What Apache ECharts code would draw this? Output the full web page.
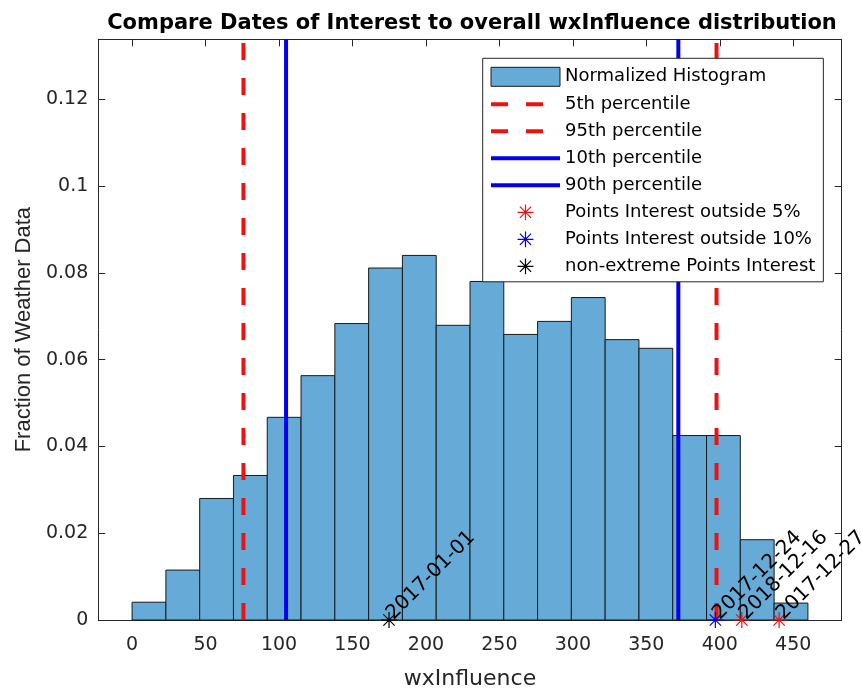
<!DOCTYPE html>
<html><head><meta charset="utf-8">
<script src="https://cdn.jsdelivr.net/npm/echarts@6/dist/echarts.min.js"></script>
<style>html,body{margin:0;padding:0;background:#fff}#c{width:861px;height:695px}</style>
</head><body><div id="c"></div>
<script>
// ---- data ----
const binEdges = [0,23,46,69,92,115,138,161,184,207,230,253,276,299,322,345,368,391,414,437,460];
const fractions = [0.0041,0.0115,0.0280,0.0333,0.0467,0.0563,0.0683,0.0811,0.0840,0.0679,0.0780,0.0658,0.0688,0.0743,0.0646,0.0626,0.0425,0.0425,0.0185,0.0039];
const xTicks = [0,50,100,150,200,250,300,350,400,450];
const yTicks = [0,0.02,0.04,0.06,0.08,0.1,0.12];
const xLimits = [-23, 483];
const yLimits = [0, 0.1338];
const percentileNames = ['5th percentile','95th percentile','10th percentile','90th percentile'];
const percentileValues = [75.8, 397.8, 104.8, 371.8];
const outside5Dates = ['2018-12-16','2017-12-27'];
const outside5Values = [415.0, 440.4];
const outside10Dates = ['2017-12-24'];
const outside10Values = [397.0];
const normalDates = ['2017-01-01'];
const normalValues = [174.9];

// ---- styling ----
const AX = '#262626';
const RED = '#ee1111', BLUE = '#0000ee';
const STAR = 'path://M-10,-0.75L10,-0.75L10,0.75L-10,0.75Z M-0.75,-10L0.75,-10L0.75,10L-0.75,10Z M-6.54,-7.6L7.6,6.54L6.54,7.6L-7.6,-6.54Z M-7.6,6.54L6.54,-7.6L7.6,-6.54L-6.54,7.6Z';
const STAR_LEGEND = STAR + ' M-12,-12L-12,-12Z M12,12L12,12Z';
const percentileStyles = [
  {color: RED, width: 4, type: [17,18]},
  {color: RED, width: 4, type: [17,18]},
  {color: BLUE, width: 4, type: 'solid'},
  {color: BLUE, width: 4, type: 'solid'}
];

const chart = echarts.init(document.getElementById('c'), null, {renderer: 'canvas'});

const pointLabel = {
  show: true, formatter: '{b}', position: 'inside', align: 'left', verticalAlign: 'middle',
  rotate: 45, offset: [3, -2], color: '#000', fontFamily: 'DejaVu Sans', fontSize: 20
};
function pointSeries(name, xs, dates, color) {
  return {
    type: 'scatter', name: name, symbol: STAR, symbolSize: 16, clip: false, z: 5,
    itemStyle: {color: color, opacity: 1},
    label: pointLabel,
    data: xs.map((x, i) => ({name: dates[i], value: [x, 0]}))
  };
}

const series = [];
series.push({
  type: 'custom', name: 'Normalized Histogram', z: 2,
  data: fractions.map((f, i) => [binEdges[i], binEdges[i + 1], f]),
  encode: {x: [0, 1], y: 2},
  itemStyle: {color: '#66aad7', borderColor: '#1a1a1a', borderWidth: 1},
  renderItem: function (params, api) {
    const p0 = api.coord([api.value(0), api.value(2)]);
    const p1 = api.coord([api.value(1), 0]);
    return {type: 'rect', shape: {x: p0[0], y: p0[1], width: p1[0] - p0[0], height: p1[1] - p0[1]},
      style: {fill: '#66aad7', stroke: '#1a1a1a', lineWidth: 1}};
  }
});
percentileNames.forEach((n, i) => {
  series.push({
    type: 'line', name: n, z: 3, symbol: 'none', silent: true,
    lineStyle: percentileStyles[i], itemStyle: {color: percentileStyles[i].color},
    data: [[percentileValues[i], yLimits[0]], [percentileValues[i], yLimits[1]]]
  });
});
series.push(pointSeries('Points Interest outside 5%', outside5Values, outside5Dates, RED));
series.push(pointSeries('Points Interest outside 10%', outside10Values, outside10Dates, BLUE));
series.push(pointSeries('non-extreme Points Interest', normalValues, normalDates, '#000'));

const legendData = [{name: 'Normalized Histogram', icon: 'rect', itemStyle: {color: '#66aad7', borderColor: '#1a1a1a', borderWidth: 1}}];
percentileNames.forEach((n, i) => legendData.push({
  name: n,
  itemStyle: {opacity: 0},
  lineStyle: {color: percentileStyles[i].color, width: 4, type: percentileStyles[i].type, opacity: 1}
}));
legendData.push(
  {name: 'Points Interest outside 5%', icon: STAR_LEGEND},
  {name: 'Points Interest outside 10%', icon: STAR_LEGEND},
  {name: 'non-extreme Points Interest', icon: STAR_LEGEND}
);

const axisCommon = {
  axisLine: {show: true, onZero: false, lineStyle: {color: AX, width: 1}},
  splitLine: {show: false}
};

chart.setOption({
  animation: false,
  backgroundColor: '#fff',
  title: {
    text: 'Compare Dates of Interest to overall wxInfluence distribution',
    left: 467, textAlign: 'center', top: 6,
    textStyle: {fontFamily: 'DejaVu Sans', fontWeight: 'bold', fontSize: 21, color: '#000', lineHeight: 26}
  },
  grid: {left: 98.3, right: 19.3, top: 39.3, bottom: 67.7, containLabel: false},
  legend: {
    orient: 'vertical', left: 482.7, top: 58.3,
    backgroundColor: '#fff', borderColor: AX, borderWidth: 1,
    padding: [8.5, 8, 6, 6.3], itemGap: 8, itemWidth: 69, itemHeight: 19,
    selectedMode: false, z: 10,
    textStyle: {fontFamily: 'DejaVu Sans', fontSize: 18, color: '#000', lineHeight: 19},
    data: legendData
  },
  xAxis: [
    Object.assign({
      type: 'value', min: xLimits[0], max: xLimits[1], position: 'bottom',
      name: 'wxInfluence', nameLocation: 'middle', nameGap: 48,
      nameTextStyle: {fontFamily: 'DejaVu Sans', fontSize: 22, color: AX},
      axisTick: {show: true, inside: true, length: 7, customValues: xTicks, lineStyle: {color: AX}},
      axisLabel: {customValues: xTicks, margin: 16, fontFamily: 'DejaVu Sans', fontSize: 19, color: AX}
    }, axisCommon),
    Object.assign({
      type: 'value', min: xLimits[0], max: xLimits[1], position: 'top',
      axisTick: {show: true, inside: true, length: 7, customValues: xTicks, lineStyle: {color: AX}},
      axisLabel: {show: false}
    }, axisCommon)
  ],
  yAxis: [
    Object.assign({
      type: 'value', min: yLimits[0], max: yLimits[1], position: 'left',
      name: 'Fraction of Weather Data', nameLocation: 'middle', nameGap: 53, nameRotate: 90,
      nameTextStyle: {fontFamily: 'Liberation Sans', fontSize: 22, color: AX},
      axisTick: {show: true, inside: true, length: 7, customValues: yTicks, lineStyle: {color: AX}},
      axisLabel: {customValues: yTicks, margin: 10, fontFamily: 'DejaVu Sans', fontSize: 19, color: AX,
        formatter: v => String(+v.toFixed(4))}
    }, axisCommon),
    Object.assign({
      type: 'value', min: yLimits[0], max: yLimits[1], position: 'right',
      axisTick: {show: true, inside: true, length: 7, customValues: yTicks, lineStyle: {color: AX}},
      axisLabel: {show: false}
    }, axisCommon)
  ],
  series: series
});
</script>
</body></html>
